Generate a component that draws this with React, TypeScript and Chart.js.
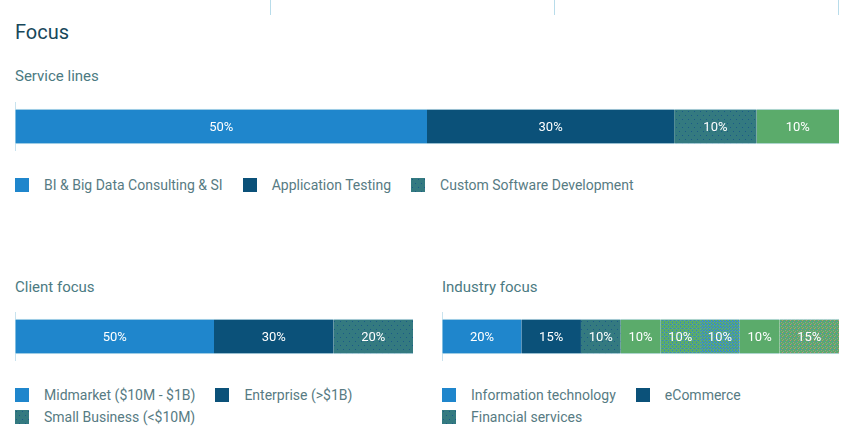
import React, { useEffect, useRef } from "react";
import { Chart, registerables } from "chart.js";

Chart.register(...registerables);

const BLUE = "#1f86cc";
const DARK = "#0b5179";
const TEAL = "#347a80";
const GREEN = "#5bab6b";
const GRID = "#c9e3ee";

// Service lines
const serviceLabels = ["BI & Big Data Consulting & SI", "Application Testing", "Custom Software Development", "Other services"];
const serviceValues = [50, 30, 10, 10];
const serviceFills = ["blue", "dark", "tealDots", "green"];

// Client focus
const clientLabels = ["Midmarket ($10M - $1B)", "Enterprise (>$1B)", "Small Business (<$10M)"];
const clientValues = [50, 30, 20];
const clientFills = ["blue", "dark", "tealDots"];

// Industry focus
const industryLabels = ["Information technology", "eCommerce", "Financial services", "Other industry 1", "Other industry 2", "Other industry 3", "Other industry 4", "Other industry 5"];
const industryValues = [20, 15, 10, 10, 10, 10, 10, 15];
const industryFills = ["blue", "dark", "tealDots", "green", "greenBlueDots", "greenBlueMesh", "green", "greenMixDots"];

const LEGEND_COUNT = 3;

function makeTile(kind: string): HTMLCanvasElement {
  const c = document.createElement("canvas");
  let w = 8;
  let h = 8;
  let bg = TEAL;
  let dots: [number, number, string][] = [];
  if (kind === "tealDots") {
    w = 6;
    h = 8;
    bg = TEAL;
    dots = [[1, 1, "#1a5a88"], [4, 5, "#1a5a88"]];
  } else if (kind === "greenBlueDots") {
    w = 4;
    h = 4;
    bg = GREEN;
    dots = [[0, 0, "#2f80d0"], [2, 2, "#2f80d0"], [2, 0, "#4a93c8"]];
  } else if (kind === "greenBlueMesh") {
    w = 3;
    h = 3;
    bg = GREEN;
    dots = [[0, 0, "#2f84d6"], [1, 1, "#3f8fd0"], [2, 2, "#2f84d6"], [2, 0, "#4a90c8"]];
  } else if (kind === "greenMixDots") {
    w = 4;
    h = 4;
    bg = GREEN;
    dots = [[0, 0, "#c08a7a"], [2, 1, "#4f88c0"], [1, 3, "#8a9a98"], [3, 2, "#a0968a"]];
  } else {
    w = 2;
    h = 2;
    bg = kind === "blue" ? BLUE : kind === "dark" ? DARK : GREEN;
  }
  c.width = w;
  c.height = h;
  const ctx = c.getContext("2d")!;
  ctx.fillStyle = bg;
  ctx.fillRect(0, 0, w, h);
  for (const [x, y, col] of dots) {
    ctx.fillStyle = col;
    ctx.fillRect(x, y, 1, 1);
  }
  return c;
}

function fillFor(kind: string, ctx: CanvasRenderingContext2D): string | CanvasPattern {
  if (kind === "blue") return BLUE;
  if (kind === "dark") return DARK;
  if (kind === "green") return GREEN;
  return ctx.createPattern(makeTile(kind), "repeat")!;
}

function cssFor(kind: string): React.CSSProperties {
  if (kind === "blue") return { background: BLUE };
  if (kind === "dark") return { background: DARK };
  if (kind === "green") return { background: GREEN };
  return { backgroundImage: `url(${makeTile(kind).toDataURL()})` };
}

const labelPlugin = {
  id: "segLabels",
  afterDatasetsDraw(chart: any) {
    const ctx = chart.ctx;
    ctx.save();
    ctx.fillStyle = "#ffffff";
    ctx.font = "13px Roboto";
    ctx.textAlign = "center";
    ctx.textBaseline = "middle";
    chart.data.datasets.forEach((ds: any, i: number) => {
      const meta = chart.getDatasetMeta(i);
      const el: any = meta.data[0];
      if (!el) return;
      const cx = (el.x + el.base) / 2;
      ctx.fillText(ds.data[0] + "%", cx, el.y + 1);
    });
    ctx.restore();
  },
};

function StackBar({ labels, values, fills, left, top, width, height }: any) {
  const ref = useRef<HTMLCanvasElement>(null);
  useEffect(() => {
    const canvas = ref.current!;
    const ctx = canvas.getContext("2d")!;
    const chart = new Chart(canvas, {
      type: "bar",
      data: {
        labels: [""],
        datasets: values.map((v: number, i: number) => ({
          label: labels[i],
          data: [v],
          backgroundColor: fillFor(fills[i], ctx),
          borderColor: GRID,
          borderWidth: { top: 1, bottom: 1, left: 0, right: 0 },
          borderSkipped: false,
          barThickness: 35,
          stack: "s",
        })),
      },
      options: {
        indexAxis: "y",
        animation: false,
        responsive: false,
        maintainAspectRatio: false,
        layout: { padding: 0 },
        plugins: { legend: { display: false }, tooltip: { enabled: false } },
        scales: {
          x: {
            stacked: true,
            min: 0,
            max: 100,
            ticks: { display: false, stepSize: 100 },
            grid: { color: GRID, drawTicks: false, lineWidth: 1 },
            border: { display: false },
          },
          y: { stacked: true, display: false },
        },
      },
      plugins: [labelPlugin],
    } as any);
    return () => chart.destroy();
  }, []);
  return (
    <canvas
      ref={ref}
      width={width}
      height={height}
      style={{ position: "absolute", left, top, width, height }}
    />
  );
}

function Legend({ labels, fills, left, top, width }: any) {
  return (
    <div
      style={{
        position: "absolute",
        left,
        top,
        width,
        display: "flex",
        flexWrap: "wrap",
        columnGap: 20,
        rowGap: 8,
        fontFamily: "Roboto",
        fontSize: 14,
        color: "#577b83",
        lineHeight: "14px",
      }}
    >
      {labels.slice(0, LEGEND_COUNT).map((l: string, i: number) => (
        <div key={i} style={{ display: "flex", alignItems: "center", height: 14 }}>
          <span style={{ width: 14, height: 14, display: "inline-block", marginRight: 15, ...cssFor(fills[i]) }} />
          <span>{l}</span>
        </div>
      ))}
    </div>
  );
}

export default function App() {
  useEffect(() => {
    document.body.style.margin = "0";
  }, []);
  const heading: React.CSSProperties = {
    position: "absolute",
    fontFamily: "Roboto",
    fontSize: 15,
    color: "#4b7a82",
    lineHeight: "18px",
    margin: 0,
  };
  return (
    <div style={{ position: "relative", width: 849, height: 442, background: "#fff", overflow: "hidden" }}>
      {[270, 554, 838].map((x) => (
        <div key={x} style={{ position: "absolute", left: x, top: 0, width: 1, height: 15, background: "#b8dcea" }} />
      ))}
      <div style={{ ...heading, left: 15, top: 21, fontSize: 20, lineHeight: "22px", color: "#17475a" }}>Focus</div>
      <div style={{ ...heading, left: 15, top: 67 }}>Service lines</div>
      <StackBar labels={serviceLabels} values={serviceValues} fills={serviceFills} left={15} top={102} width={824} height={49} />
      <Legend labels={serviceLabels} fills={serviceFills} left={15} top={178} width={824} />

      <div style={{ ...heading, left: 15, top: 278 }}>Client focus</div>
      <StackBar labels={clientLabels} values={clientValues} fills={clientFills} left={15} top={312} width={398} height={49} />
      <Legend labels={clientLabels} fills={clientFills} left={15} top={388} width={398} />

      <div style={{ ...heading, left: 442, top: 278 }}>Industry focus</div>
      <StackBar labels={industryLabels} values={industryValues} fills={industryFills} left={442} top={312} width={397} height={49} />
      <Legend labels={industryLabels} fills={industryFills} left={442} top={388} width={397} />
    </div>
  );
}
